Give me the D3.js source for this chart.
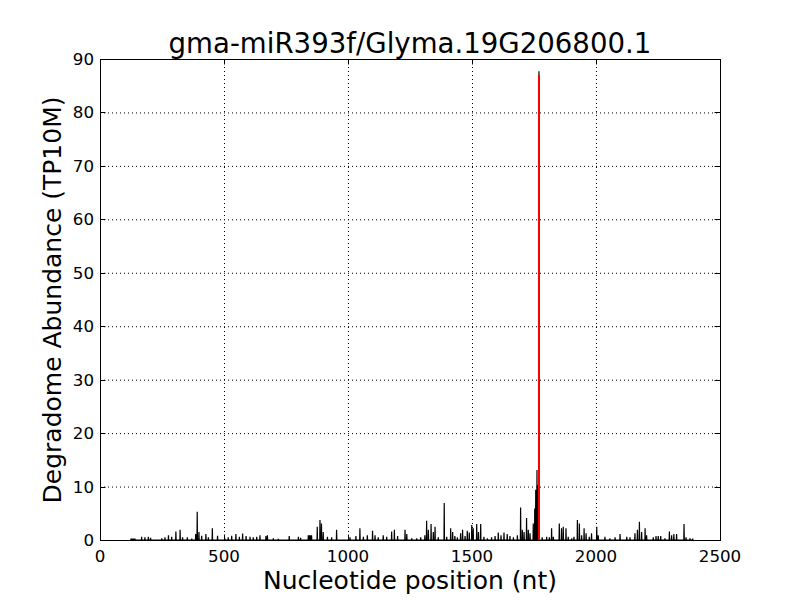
<!DOCTYPE html>
<html><head><meta charset="utf-8">
<script src="https://cdn.jsdelivr.net/npm/d3@7"></script>
<style>body{margin:0;background:#fff}svg{display:block}</style>
</head><body>
<svg id="c" width="800" height="600"></svg>
<script>
const title = "gma-miR393f/Glyma.19G206800.1";
const xTicks = [0, 500, 1000, 1500, 2000, 2500];
const yTicks = [0, 10, 20, 30, 40, 50, 60, 70, 80, 90];
// degradome read positions (nt) and abundance (TP10M)
const positions = [125,129,133,137,141,168,181,195,204,249,262,276,289,306,323,333,352,370,386,392,399,410,427,437,453,474,504,517,531,548,562,575,589,605,618,632,645,669,675,699,719,763,800,809,840,844,849,853,876,887,893,900,917,934,954,1008,1032,1048,1062,1078,1099,1109,1122,1142,1156,1176,1187,1200,1230,1237,1257,1277,1293,1310,1317,1324,1335,1344,1351,1364,1388,1398,1414,1422,1431,1441,1454,1462,1472,1481,1489,1499,1505,1519,1526,1535,1548,1562,1579,1593,1606,1617,1629,1642,1653,1667,1683,1696,1703,1710,1720,1727,1734,1747,1753,1757,1762,1766,1770,1783,1801,1812,1821,1828,1852,1861,1868,1879,1888,1902,1911,1925,1933,1942,1952,1960,1973,1982,2003,2009,2036,2056,2077,2097,2124,2137,2157,2167,2175,2184,2198,2204,2231,2242,2251,2261,2278,2296,2305,2314,2325,2355,2363,2379,2390];
const abundance = [0.25,0.25,0.25,0.25,0.25,0.6,0.5,0.6,0.4,0.3,0.5,0.9,0.6,1.6,1.9,0.5,0.5,0.25,1.1,5.3,1.5,0.8,1.1,0.5,2.2,0.8,0.25,0.5,0.8,1.1,0.6,1.2,0.75,0.6,0.5,0.6,0.9,0.75,0.9,0.3,0.2,0.75,0.6,0.4,0.9,0.9,0.9,0.9,2.5,3.75,3.1,1.5,0.6,0.5,1.9,0.5,0.75,2.2,0.6,0.9,1.75,0.9,0.5,0.9,0.6,1.6,1.9,0.75,1.9,1.1,0.3,0.3,0.5,0.9,3.6,1.9,3.0,1.5,2.5,0.5,6.9,0.6,2.2,1.5,0.75,0.5,1.25,1.9,0.75,1.75,1.4,2.8,2.2,3.0,1.5,3.0,0.6,0.3,0.5,0.75,1.4,0.9,1.4,1.1,0.75,0.5,0.9,6.1,1.9,1.5,4.1,1.9,1.25,3.1,5.9,9.4,13.1,10.3,87.7,0.5,0.6,0.5,2.2,0.6,3.1,2.2,2.5,2.2,0.6,0.3,0.6,3.75,3.1,0.9,2.2,1.25,0.6,1.25,2.5,0.9,0.6,0.3,0.5,1.1,0.6,0.5,1.25,1.9,3.4,1.5,2.2,0.9,0.5,0.75,0.75,0.75,0.3,1.6,0.9,1.1,1.1,3.0,0.5,0.3,0.25];
const targetPos = 1770;
const targetAbundance = 87;

const svg = d3.select("#c");
const m = {l:100, r:720, t:59, b:540};
const x = d3.scaleLinear().domain([0,2500]).range([m.l, m.r]);
const y = d3.scaleLinear().domain([0,90]).range([m.b, m.t]);
const font = "DejaVu Sans, sans-serif";

// grid
const g = svg.append("g");
g.selectAll(".gx").data(xTicks).join("line")
  .attr("x1", d=>x(d)+0.5).attr("x2", d=>x(d)+0.5).attr("y1", m.t).attr("y2", m.b)
  .attr("stroke","#000").attr("stroke-width",1).attr("stroke-dasharray","1,3");
g.selectAll(".gy").data(yTicks).join("line")
  .attr("y1", d=>y(d)+0.5).attr("y2", d=>y(d)+0.5).attr("x1", m.l).attr("x2", m.r)
  .attr("stroke","#000").attr("stroke-width",1).attr("stroke-dasharray","1,3");

// build line series: zero between sparse reads
const pts = [];
const pairs = positions.map((p,i)=>[p, abundance[i]]).sort((a,b)=>a[0]-b[0]);
pairs.forEach((d,i)=>{
  const prev = i>0 ? pairs[i-1][0] : -Infinity;
  if (d[0]-prev > 1) pts.push([d[0]-1, 0]);
  pts.push(d);
  const next = i<pairs.length-1 ? pairs[i+1][0] : Infinity;
  if (next-d[0] > 1) pts.push([d[0]+1, 0]);
});
const line = d3.line().x(d=>x(d[0])).y(d=>y(d[1]));
svg.append("path").datum(pts).attr("d", line)
  .attr("fill","none").attr("stroke","#000").attr("stroke-width",1.2).attr("stroke-linejoin","miter");

// target site
svg.append("line").attr("x1", x(targetPos)).attr("x2", x(targetPos))
  .attr("y1", y(0)).attr("y2", y(targetAbundance))
  .attr("stroke","#ff0000").attr("stroke-width",2);

// axes with inward ticks
const ax = svg.append("g");
const tl = 5.5;
xTicks.forEach(t=>{
  const xx = Math.round(x(t))+0.5;
  ax.append("line").attr("x1",xx).attr("x2",xx).attr("y1",m.b).attr("y2",m.b-tl).attr("stroke","#000");
  ax.append("line").attr("x1",xx).attr("x2",xx).attr("y1",m.t).attr("y2",m.t+tl).attr("stroke","#000");
  ax.append("text").attr("x",x(t)).attr("y",m.b+22).attr("text-anchor","middle")
    .attr("font-family",font).attr("font-size",16.7).text(t);
});
yTicks.forEach(t=>{
  const yy = Math.round(y(t))+0.5;
  ax.append("line").attr("x1",m.l).attr("x2",m.l+tl).attr("y1",yy).attr("y2",yy).attr("stroke","#000");
  ax.append("line").attr("x1",m.r).attr("x2",m.r-tl).attr("y1",yy).attr("y2",yy).attr("stroke","#000");
  ax.append("text").attr("x",m.l-6).attr("y",y(t)+6).attr("text-anchor","end")
    .attr("font-family",font).attr("font-size",16.7).text(t);
});
svg.append("rect").attr("x",m.l+0.5).attr("y",m.t+0.5).attr("width",m.r-m.l).attr("height",m.b-m.t)
  .attr("fill","none").attr("stroke","#000").attr("stroke-width",1);

svg.append("text").attr("x",410).attr("y",53).attr("text-anchor","middle")
  .attr("font-family",font).attr("font-size",27.6).text(title);
svg.append("text").attr("x",410).attr("y",589).attr("text-anchor","middle")
  .attr("font-family",font).attr("font-size",25).text("Nucleotide position (nt)");
svg.append("text").attr("transform","translate(61,300) rotate(-90)").attr("text-anchor","middle")
  .attr("font-family",font).attr("font-size",25).text("Degradome Abundance (TP10M)");
</script>
</body></html>
